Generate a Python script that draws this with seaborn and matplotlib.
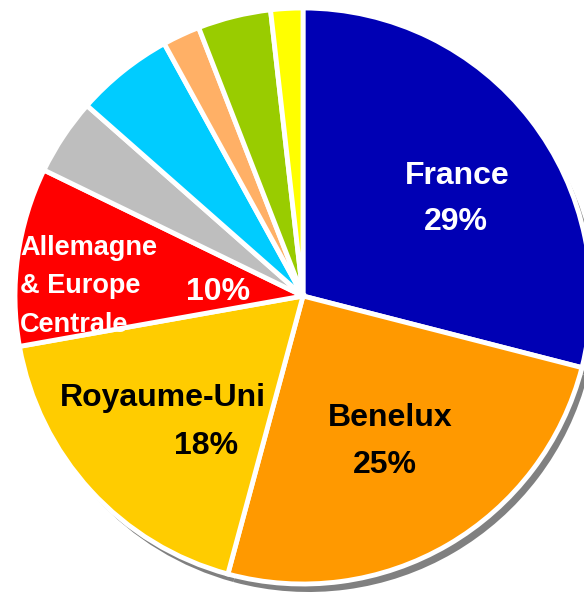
import matplotlib.pyplot as plt
import seaborn as sns

# Répartition par zone (sens horaire depuis midi)
regions = ["France", "Benelux", "Royaume-Uni", "Allemagne & Europe Centrale",
           "Autre 1", "Autre 2", "Autre 3", "Autre 4", "Autre 5"]
shares = [29.0, 25.2, 18.0, 10.0, 4.3, 5.5, 2.1, 4.1, 1.8]
colors = ["#0000B4", "#FF9900", "#FFCC00", "#FF0000", "#BEBEBE",
          "#00CCFF", "#FFB066", "#99CC00", "#FFFF00"]

sns.set_theme(style="white")
plt.rcParams['font.family'] = ['Liberation Sans', 'DejaVu Sans']

fig = plt.figure(figsize=(5.84, 5.96), dpi=100)
ax = fig.add_axes([0, 0, 1, 1])

wedges, _ = ax.pie(
    shares,
    colors=colors,
    startangle=90,
    counterclock=False,
    radius=1.0,
    wedgeprops=dict(edgecolor="white", linewidth=3.5),
    shadow=dict(ox=0.014, oy=-0.02, facecolor="#808080",
                edgecolor="none", alpha=1.0),
)

# pixel layout of the reference: center (303, 296), radius 288 px
R = 288.0
ax.set_xlim(-303 / R, (584 - 303) / R)
ax.set_ylim(-(596 - 296) / R, 296 / R)
ax.set_aspect("equal")
ax.axis("off")


def px(x, y):
    return (x - 303) / R, (296 - y) / R


big = dict(fontsize=23, fontweight="bold", ha="center", va="baseline")

ax.text(*px(457, 184), "France", color="white", **big)
ax.text(*px(456, 230), "29%", color="white", **big)
ax.text(*px(390, 426), "Benelux", color="black", **big)
ax.text(*px(385, 473), "25%", color="black", **big)
ax.text(*px(163, 406), "Royaume-Uni", color="black", **big)
ax.text(*px(206, 454), "18%", color="black", **big)
ax.text(*px(218, 300), "10%", color="white", **big)

small = dict(fontsize=19.5, fontweight="bold", ha="left", va="baseline",
             color="white")
for line, base in zip(["Allemagne", "& Europe", "Centrale"], [255, 293, 332]):
    t = ax.text(*px(20, base), line, **small)
    t.set_clip_path(wedges[3])

fig.savefig("out.png", dpi=100)
